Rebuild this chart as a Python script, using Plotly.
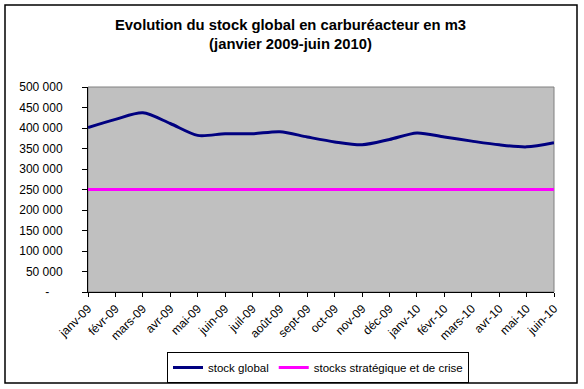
import plotly.graph_objects as go

months = ["janv-09", "févr-09", "mars-09", "avr-09", "mai-09", "juin-09", "juil-09",
          "août-09", "sept-09", "oct-09", "nov-09", "déc-09", "janv-10", "févr-10",
          "mars-10", "avr-10", "mai-10", "juin-10"]
stock_global = [401000, 421000, 437000, 411000, 382000, 386000, 386000, 391000, 378000,
                366000, 359000, 372000, 388000, 378000, 368000, 359000, 354000, 364000]
stock_strategique = [250000] * len(months)

ytick_vals = [0, 50000, 100000, 150000, 200000, 250000, 300000, 350000, 400000, 450000, 500000]
ytick_text = ["-\u00a0\u00a0\u00a0\u00a0", "50 000", "100 000", "150 000", "200 000", "250 000",
              "300 000", "350 000", "400 000", "450 000", "500 000"]

FONT = "Liberation Sans, Arial, sans-serif"
idx = list(range(len(months)))

fig = go.Figure()
fig.add_trace(go.Scatter(x=idx, y=stock_global, mode="lines", name="stock global",
                         line=dict(color="#000080", width=3, shape="spline", smoothing=0.8)))
fig.add_trace(go.Scatter(x=idx, y=stock_strategique, mode="lines",
                         name="stocks stratégique et de crise",
                         line=dict(color="#FF00FF", width=3)))

W, H = 584, 389
L, R, T, B = 88, 30, 87, 97
pw, ph = W - L - R, H - T - B

def px_x(p):
    return (p - L) / pw

def px_y(p):
    return (H - B - p) / ph

fig.update_layout(
    width=W, height=H,
    margin=dict(l=L, r=R, t=T, b=B, autoexpand=False),
    paper_bgcolor="white",
    plot_bgcolor="#C0C0C0",
    font=dict(family=FONT, size=12, color="black"),
    showlegend=True,
    legend=dict(orientation="h", x=px_x(318), xanchor="center", y=px_y(352), yanchor="top",
                bordercolor="black", borderwidth=1, bgcolor="white",
                font=dict(family=FONT, size=11.5), itemwidth=30, tracegroupgap=0),
    xaxis=dict(range=[0, len(months) - 1], tickmode="array", tickvals=idx, ticktext=months,
               tickangle=-45, ticks="outside", ticklen=4, tickcolor="black", automargin=False,
               showline=True, linecolor="black", linewidth=1, showgrid=False, zeroline=False,
               tickfont=dict(family=FONT, size=12)),
    yaxis=dict(range=[0, 500000], tickmode="array", tickvals=ytick_vals, ticktext=ytick_text,
               ticks="outside", ticklen=5, tickcolor="black", ticklabelstandoff=17, automargin=False,
               showline=True, linecolor="black", linewidth=1, showgrid=False, zeroline=False,
               tickfont=dict(family=FONT, size=12)),
    shapes=[
        dict(type="rect", xref="paper", yref="paper", x0=0, x1=1, y0=0, y1=1,
             line=dict(color="#808080", width=1), layer="below"),
        dict(type="rect", xref="paper", yref="paper",
             x0=px_x(5), x1=px_x(577), y0=px_y(383), y1=px_y(5),
             line=dict(color="black", width=1.5)),
    ],
    annotations=[
        dict(text="<b>Evolution du stock global en carburéacteur en m3</b><br><b>(janvier 2009-juin 2010)</b>",
             xref="paper", yref="paper", x=px_x(290), y=px_y(34), xanchor="center", yanchor="middle",
             showarrow=False, font=dict(family=FONT, size=14.8, color="black"))
    ],
)

fig.write_html("out.html", config={"displayModeBar": False},
               post_script="document.body.style.margin='0';")
